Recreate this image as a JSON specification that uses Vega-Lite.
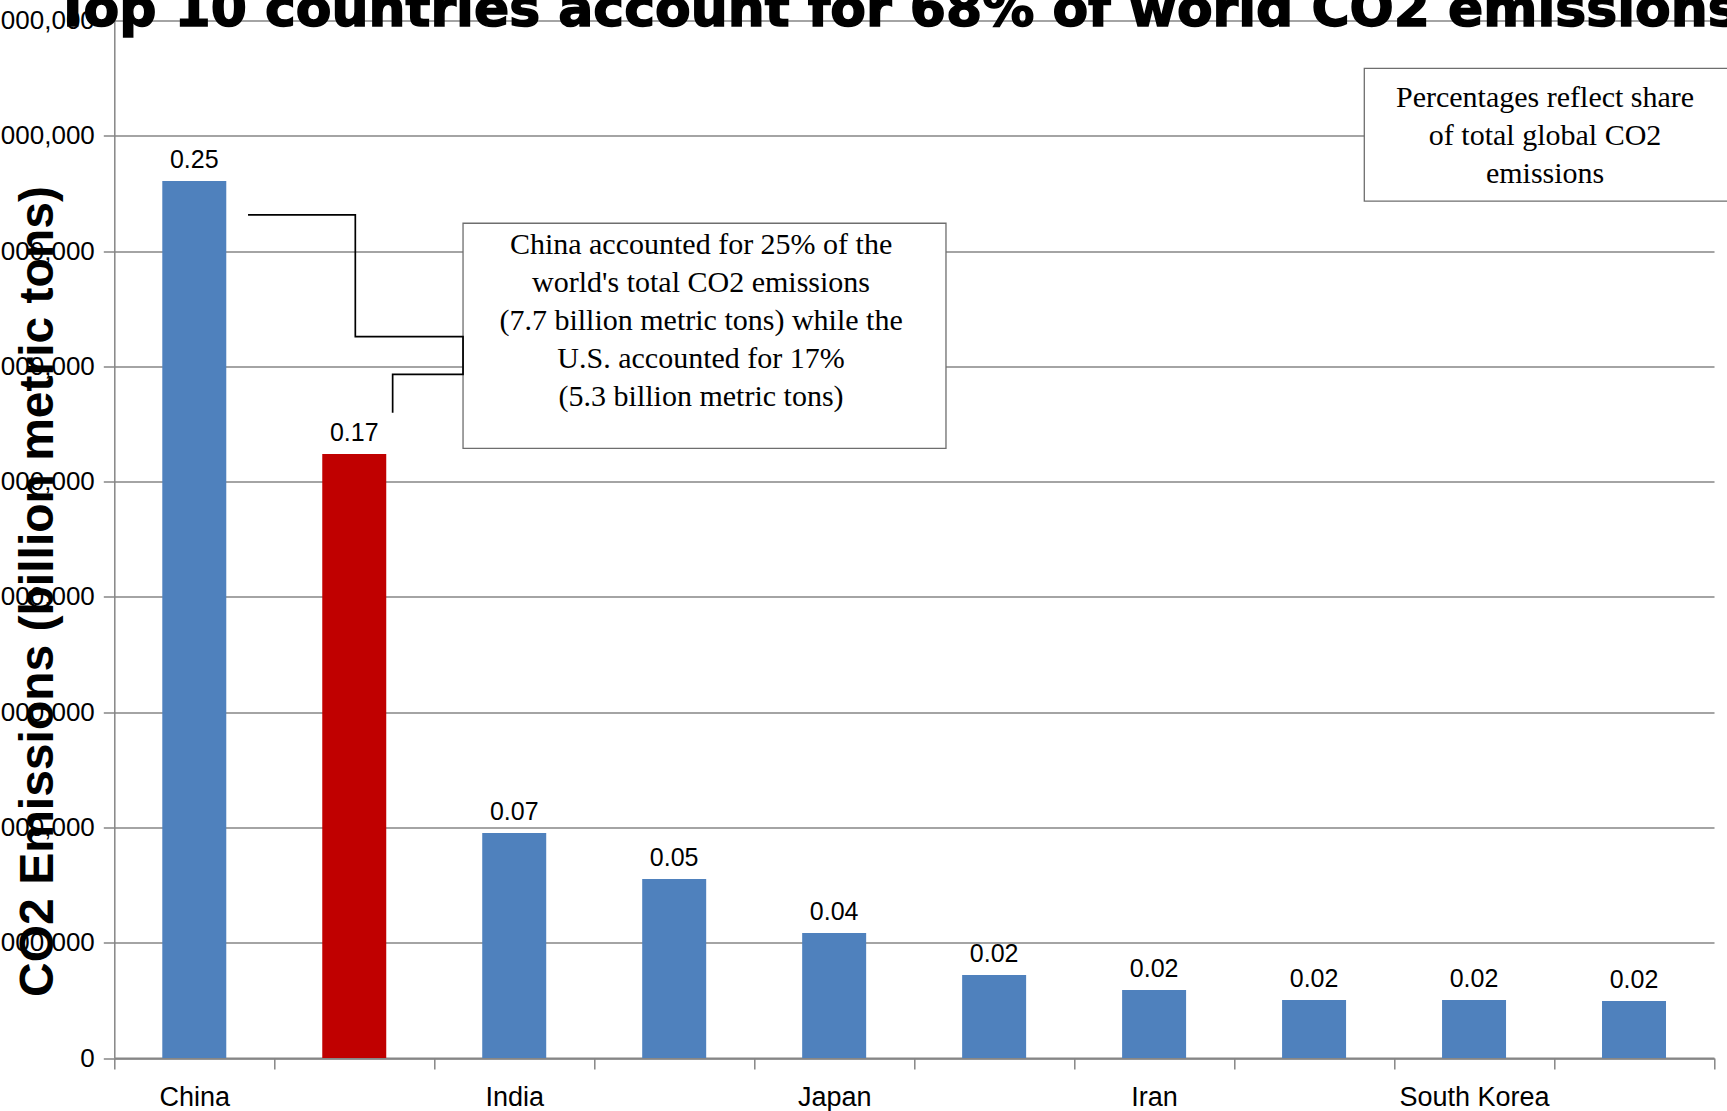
{
  "$schema": "https://vega.github.io/schema/vega-lite/v6.json",
  "width": 1599.7,
  "height": 1037.5,
  "autosize": "none",
  "padding": {"left": 114.3, "top": 20.5, "right": 13, "bottom": 53},
  "background": "white",
  "config": {"view": {"stroke": null}},
  "datasets": {
    "emissions": [
      {"country": "China", "emissions": 7608000, "share": 0.25},
      {"country": "United States", "emissions": 5240000, "share": 0.17},
      {"country": "India", "emissions": 1952000, "share": 0.07},
      {"country": "Russia", "emissions": 1553000, "share": 0.05},
      {"country": "Japan", "emissions": 1084000, "share": 0.04},
      {"country": "Germany", "emissions": 720000, "share": 0.02},
      {"country": "Iran", "emissions": 590000, "share": 0.02},
      {"country": "Canada", "emissions": 503000, "share": 0.02},
      {"country": "South Korea", "emissions": 503000, "share": 0.02},
      {"country": "United Kingdom", "emissions": 494000, "share": 0.02}
    ],
    "boxes": [
      {"x1": 2.18, "x2": 5.199, "y1": 7241000, "y2": 5289000},
      {"x1": 7.814, "x2": 10.3, "y1": 8585000, "y2": 7434000}
    ],
    "connector": [
      {"seq": 1, "x": 0.836, "y": 7313000},
      {"seq": 2, "x": 1.5066, "y": 7313000},
      {"seq": 3, "x": 1.5066, "y": 6257000},
      {"seq": 4, "x": 2.18, "y": 6257000},
      {"seq": 5, "x": 2.18, "y": 5931000},
      {"seq": 6, "x": 1.74, "y": 5931000},
      {"seq": 7, "x": 1.74, "y": 5598000}
    ],
    "heading": [
      {"x": -0.371, "y": 8952000, "text": "Top 10 countries account for 68% of world CO2 emissions"}
    ],
    "note1": [
      {"x": 3.668, "y": 6975000, "text": "China accounted for 25% of the\nworld's total CO2 emissions\n(7.7 billion metric tons) while the\nU.S. accounted for 17%\n(5.3 billion metric tons)"}
    ],
    "note2": [
      {"x": 8.944, "y": 8252000, "text": "Percentages reflect share\nof  total global CO2\nemissions"}
    ]
  },
  "layer": [
    {
      "data": {"name": "emissions"},
      "encoding": {
        "x": {
          "field": "country",
          "type": "nominal",
          "sort": null,
          "scale": {"paddingInner": 0, "paddingOuter": 0},
          "axis": {
            "title": null,
            "labelAngle": 0,
            "tickBand": "extent",
            "labelExpr": "indexof(['China','India','Japan','Iran','South Korea'], datum.value) >= 0 ? datum.label : ''",
            "labelFont": "Liberation Sans",
            "labelFontSize": 27,
            "labelColor": "black",
            "labelPadding": 15,
            "labelOverlap": false,
            "tickSize": 11,
            "tickColor": "#868686",
            "tickWidth": 1.5,
            "domainColor": "#868686",
            "domainWidth": 2,
            "grid": false
          }
        },
        "y": {
          "field": "emissions",
          "type": "quantitative",
          "scale": {"domain": [0, 9000000], "nice": false},
          "axis": {
            "title": "CO2 Emissions (billion metric tons)",
            "titleFont": "Liberation Sans",
            "titleFontSize": 48,
            "titleFontWeight": "bold",
            "titleColor": "black",
            "titleAngle": 270,
            "titleAlign": "center",
            "titleBaseline": "alphabetic",
            "titleX": -62,
            "titleY": 570.5,
            "values": [0, 1000000, 2000000, 3000000, 4000000, 5000000, 6000000, 7000000, 8000000, 9000000],
            "format": ",d",
            "labelFont": "Liberation Sans",
            "labelFontSize": 26,
            "labelColor": "black",
            "labelPadding": 9,
            "tickSize": 11,
            "tickColor": "#868686",
            "tickWidth": 1.5,
            "domainColor": "#868686",
            "domainWidth": 1.5,
            "gridColor": "#868686",
            "gridWidth": 1.3
          }
        }
      },
      "layer": [
        {
          "mark": {"type": "bar", "width": {"band": 0.4}},
          "encoding": {
            "color": {
              "condition": {"test": "datum.country === 'United States'", "value": "#C00000"},
              "value": "#4F81BD"
            }
          }
        },
        {
          "mark": {"type": "text", "font": "Liberation Sans", "fontSize": 25, "color": "black", "baseline": "alphabetic", "dy": -13},
          "encoding": {
            "text": {"field": "share", "type": "quantitative", "format": ".2f"}
          }
        }
      ]
    },
    {
      "data": {"name": "boxes"},
      "mark": {"type": "rect", "fill": "white", "stroke": "#6e6e6e", "strokeWidth": 1.3, "clip": false},
      "encoding": {
        "x": {"field": "x1", "type": "quantitative", "scale": {"domain": [0, 10], "nice": false, "zero": false}, "axis": null},
        "x2": {"field": "x2"},
        "y": {"field": "y1", "type": "quantitative"},
        "y2": {"field": "y2"}
      }
    },
    {
      "data": {"name": "connector"},
      "mark": {"type": "line", "color": "black", "strokeWidth": 1.7, "clip": false},
      "encoding": {
        "x": {"field": "x", "type": "quantitative", "scale": {"domain": [0, 10], "nice": false, "zero": false}, "axis": null},
        "y": {"field": "y", "type": "quantitative"},
        "order": {"field": "seq"}
      }
    },
    {
      "data": {"name": "note1"},
      "mark": {"type": "text", "font": "Liberation Serif", "fontSize": 30, "color": "black", "align": "center", "baseline": "alphabetic", "lineBreak": "\n", "lineHeight": 38, "clip": false},
      "encoding": {
        "x": {"field": "x", "type": "quantitative", "scale": {"domain": [0, 10], "nice": false, "zero": false}, "axis": null},
        "y": {"field": "y", "type": "quantitative"},
        "text": {"field": "text"}
      }
    },
    {
      "data": {"name": "note2"},
      "mark": {"type": "text", "font": "Liberation Serif", "fontSize": 30, "color": "black", "align": "center", "baseline": "alphabetic", "lineBreak": "\n", "lineHeight": 38, "clip": false},
      "encoding": {
        "x": {"field": "x", "type": "quantitative", "scale": {"domain": [0, 10], "nice": false, "zero": false}, "axis": null},
        "y": {"field": "y", "type": "quantitative"},
        "text": {"field": "text"}
      }
    },
    {
      "data": {"name": "heading"},
      "mark": {"type": "text", "font": "DejaVu Sans", "fontWeight": "bold", "fontSize": 52, "fill": "black", "stroke": "black", "strokeWidth": 1.5, "align": "left", "baseline": "alphabetic", "clip": false},
      "encoding": {
        "x": {"field": "x", "type": "quantitative", "scale": {"domain": [0, 10], "nice": false, "zero": false}, "axis": null},
        "y": {"field": "y", "type": "quantitative"},
        "text": {"field": "text"}
      }
    }
  ],
  "resolve": {"scale": {"x": "independent"}, "axis": {"x": "independent"}}
}
